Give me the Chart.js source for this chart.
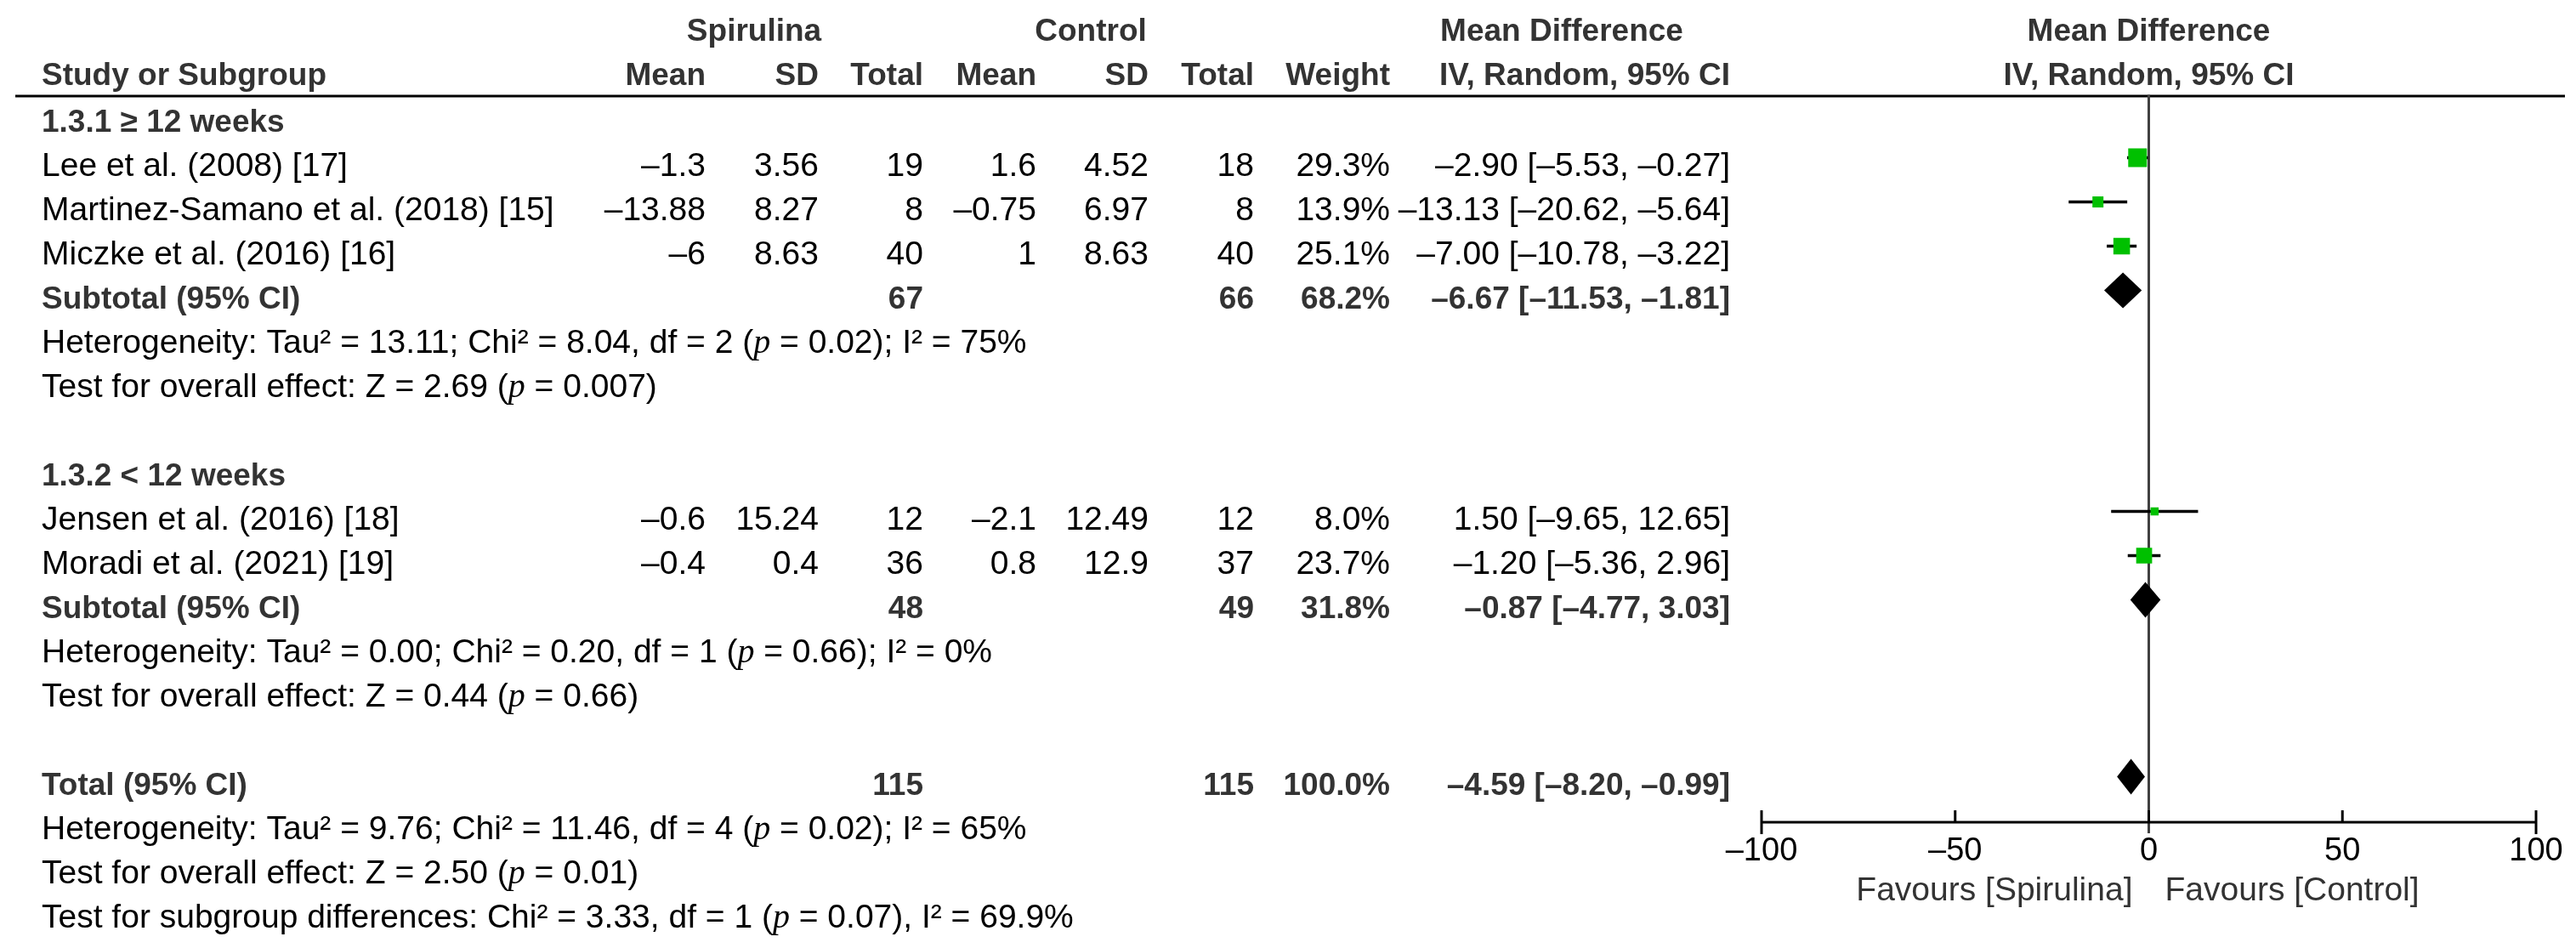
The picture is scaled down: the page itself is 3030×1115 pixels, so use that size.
<!DOCTYPE html>
<html>
<head>
<meta charset="utf-8">
<script src="https://cdn.jsdelivr.net/npm/chart.js@4.4.1/dist/chart.umd.min.js"></script>
<style>
    html, body { margin: 0; padding: 0; background: #fff; }
    #wrap { position: relative; width: 3030px; height: 1115px; }
</style>
</head>
<body>
<div id="wrap"><canvas id="forest"></canvas></div>
<script>
// studies
const studyNames = ['Lee et al. (2008) [17]', 'Martinez-Samano et al. (2018) [15]', 'Miczke et al. (2016) [16]', 'Jensen et al. (2016) [18]', 'Moradi et al. (2021) [19]'];
const studyRows = [1, 2, 3, 9, 10];
const spMean = [-1.3, -13.88, -6, -0.6, -0.4];
const spSD = [3.56, 8.27, 8.63, 15.24, 0.4];
const spN = [19, 8, 40, 12, 36];
const ctMean = [1.6, -0.75, 1, -2.1, 0.8];
const ctSD = [4.52, 6.97, 8.63, 12.49, 12.9];
const ctN = [18, 8, 40, 12, 37];
const weights = [29.3, 13.9, 25.1, 8.0, 23.7];
const md = [-2.90, -13.13, -7.00, 1.50, -1.20];
const ciLow = [-5.53, -20.62, -10.78, -9.65, -5.36];
const ciHigh = [-0.27, -5.64, -3.22, 12.65, 2.96];

// subtotals and total
const summaryNames = ['Subtotal (95% CI)', 'Subtotal (95% CI)', 'Total (95% CI)'];
const summaryRows = [4, 11, 15];
const summarySpN = [67, 48, 115];
const summaryCtN = [66, 49, 115];
const summaryWeight = [68.2, 31.8, 100.0];
const summaryMd = [-6.67, -0.87, -4.59];
const summaryLow = [-11.53, -4.77, -8.20];
const summaryHigh = [-1.81, 3.03, -0.99];

const groupNames = ['1.3.1 \u2265 12 weeks', '1.3.2 < 12 weeks'];
const groupRows = [0, 8];

// {p} is the italic p
const statRows = [5, 6, 12, 13, 16, 17, 18];
const statLines = [
    'Heterogeneity: Tau\u00b2 = 13.11; Chi\u00b2 = 8.04, df = 2 ({p} = 0.02); I\u00b2 = 75%',
    'Test for overall effect: Z = 2.69 ({p} = 0.007)',
    'Heterogeneity: Tau\u00b2 = 0.00; Chi\u00b2 = 0.20, df = 1 ({p} = 0.66); I\u00b2 = 0%',
    'Test for overall effect: Z = 0.44 ({p} = 0.66)',
    'Heterogeneity: Tau\u00b2 = 9.76; Chi\u00b2 = 11.46, df = 4 ({p} = 0.02); I\u00b2 = 65%',
    'Test for overall effect: Z = 2.50 ({p} = 0.01)',
    'Test for subgroup differences: Chi\u00b2 = 3.33, df = 1 ({p} = 0.07), I\u00b2 = 69.9%'
];

const xTickValues = [-100, -50, 0, 50, 100];
const favoursLeft = 'Favours [Spirulina]';
const favoursRight = 'Favours [Control]';

// layout
const SANS = '"Liberation Sans", Arial, sans-serif';
const SERIF = '"Liberation Serif", "Times New Roman", serif';
const COL = { name: 49, spMean: 830, spSD: 963, spN: 1086, ctMean: 1219, ctSD: 1351, ctN: 1475, weight: 1635, ci: 2035 };
const AXIS_ROW = 16.03;

const dash = s => s.replace(/-/g, '\u2013');
const fmt = v => dash(String(v));
const fix = (v, d) => dash(v.toFixed(d));
const ciText = (m, lo, hi) => fix(m, 2) + ' [' + fix(lo, 2) + ', ' + fix(hi, 2) + ']';

function put(ctx, text, x, y, align, bold) {
    ctx.font = (bold ? 'bold 37px ' : '39px ') + SANS;
    ctx.fillStyle = bold ? '#333' : '#000';
    ctx.textAlign = align;
    ctx.textBaseline = 'alphabetic';
    ctx.fillText(text, x, y);
}

function putStat(ctx, line, x, y) {
    const parts = line.split('{p}');
    ctx.textAlign = 'left';
    ctx.textBaseline = 'alphabetic';
    ctx.fillStyle = '#000';
    let cx = x;
    parts.forEach((part, i) => {
        if (i > 0) {
            ctx.font = 'italic 40px ' + SERIF;
            ctx.fillText('p', cx, y);
            cx += ctx.measureText('p').width;
        }
        ctx.font = '39px ' + SANS;
        ctx.fillText(part, cx, y);
        cx += ctx.measureText(part).width;
    });
}

const forestPlugin = {
    id: 'forest',
    beforeDatasetsDraw(chart) {
        const { ctx } = chart;
        const xs = chart.scales.x, ys = chart.scales.y;
        const x0 = xs.getPixelForValue(0);
        const ruleY = ys.getPixelForValue(-1) + 30;
        const axisY = ys.getPixelForValue(AXIS_ROW);
        ctx.save();
        ctx.fillStyle = '#000';
        ctx.fillRect(18, ruleY, 2999, 3);
        ctx.fillStyle = '#404040';
        ctx.fillRect(x0 - 1.5, ruleY, 3, axisY + 13 - ruleY);
        ctx.restore();
    },
    afterDatasetsDraw(chart) {
        const { ctx } = chart;
        const xs = chart.scales.x, ys = chart.scales.y;
        ctx.save();
        ctx.fillStyle = '#000';
        summaryRows.forEach((r, i) => {
            const yc = ys.getPixelForValue(r);
            const xl = xs.getPixelForValue(summaryLow[i]);
            const xm = xs.getPixelForValue(summaryMd[i]);
            const xh = xs.getPixelForValue(summaryHigh[i]);
            ctx.beginPath();
            ctx.moveTo(xl, yc);
            ctx.lineTo(xm, yc - 21);
            ctx.lineTo(xh, yc);
            ctx.lineTo(xm, yc + 21);
            ctx.closePath();
            ctx.fill();
        });
        ctx.restore();
    },
    afterDraw(chart) {
        const { ctx } = chart;
        const xs = chart.scales.x, ys = chart.scales.y;
        const x0 = xs.getPixelForValue(0);
        const axisY = ys.getPixelForValue(AXIS_ROW);
        const base = r => ys.getPixelForValue(r) + 21;
        ctx.save();

        // column headers
        const h1 = ys.getPixelForValue(-2) + 18;
        const h2 = ys.getPixelForValue(-1) + 18;
        put(ctx, 'Spirulina', 887, h1, 'center', true);
        put(ctx, 'Control', 1283, h1, 'center', true);
        put(ctx, 'Mean Difference', 1837, h1, 'center', true);
        put(ctx, 'Mean Difference', x0, h1, 'center', true);
        put(ctx, 'Study or Subgroup', COL.name, h2, 'left', true);
        put(ctx, 'Mean', COL.spMean, h2, 'right', true);
        put(ctx, 'SD', COL.spSD, h2, 'right', true);
        put(ctx, 'Total', COL.spN, h2, 'right', true);
        put(ctx, 'Mean', COL.ctMean, h2, 'right', true);
        put(ctx, 'SD', COL.ctSD, h2, 'right', true);
        put(ctx, 'Total', COL.ctN, h2, 'right', true);
        put(ctx, 'Weight', COL.weight, h2, 'right', true);
        put(ctx, 'IV, Random, 95% CI', COL.ci, h2, 'right', true);
        put(ctx, 'IV, Random, 95% CI', x0, h2, 'center', true);

        groupRows.forEach((r, i) => put(ctx, groupNames[i], COL.name, base(r), 'left', true));

        studyRows.forEach((r, i) => {
            const y = base(r);
            put(ctx, studyNames[i], COL.name, y, 'left', false);
            put(ctx, fmt(spMean[i]), COL.spMean, y, 'right', false);
            put(ctx, fmt(spSD[i]), COL.spSD, y, 'right', false);
            put(ctx, fmt(spN[i]), COL.spN, y, 'right', false);
            put(ctx, fmt(ctMean[i]), COL.ctMean, y, 'right', false);
            put(ctx, fmt(ctSD[i]), COL.ctSD, y, 'right', false);
            put(ctx, fmt(ctN[i]), COL.ctN, y, 'right', false);
            put(ctx, weights[i].toFixed(1) + '%', COL.weight, y, 'right', false);
            put(ctx, ciText(md[i], ciLow[i], ciHigh[i]), COL.ci, y, 'right', false);
        });

        summaryRows.forEach((r, i) => {
            const y = base(r);
            put(ctx, summaryNames[i], COL.name, y, 'left', true);
            put(ctx, fmt(summarySpN[i]), COL.spN, y, 'right', true);
            put(ctx, fmt(summaryCtN[i]), COL.ctN, y, 'right', true);
            put(ctx, summaryWeight[i].toFixed(1) + '%', COL.weight, y, 'right', true);
            put(ctx, ciText(summaryMd[i], summaryLow[i], summaryHigh[i]), COL.ci, y, 'right', true);
        });

        statRows.forEach((r, i) => putStat(ctx, statLines[i], COL.name, base(r)));

        // x axis: line, ticks pointing up (end ticks cross the line), labels
        ctx.fillStyle = '#000';
        ctx.fillRect(xs.left, axisY - 1.5, xs.right - xs.left, 3);
        ctx.font = '38px ' + SANS;
        ctx.textAlign = 'center';
        ctx.textBaseline = 'middle';
        xs.ticks.forEach((t, i) => {
            const px = xs.getPixelForValue(t.value);
            const end = i === 0 || i === xs.ticks.length - 1;
            ctx.fillRect(px - 1.5, axisY - 14, 3, end ? 28 : 14);
            ctx.fillText(fmt(t.value), px, axisY + 34);
        });

        ctx.font = '39px ' + SANS;
        ctx.fillStyle = '#333';
        ctx.textBaseline = 'alphabetic';
        ctx.textAlign = 'right';
        ctx.fillText(favoursLeft, x0 - 19, axisY + 92);
        ctx.textAlign = 'left';
        ctx.fillText(favoursRight, x0 + 19, axisY + 92);
        ctx.restore();
    }
};

const ctx = document.getElementById('forest').getContext('2d');
new Chart(ctx, {
    type: 'scatter',
    data: {
        datasets: [{
            type: 'bar',
            indexAxis: 'y',
            data: studyRows.map((r, i) => ({ y: r, x: [ciLow[i], ciHigh[i]] })),
            backgroundColor: '#000',
            borderWidth: 0,
            barThickness: 3,
            order: 2
        }, {
            type: 'scatter',
            data: studyRows.map((r, i) => ({ x: md[i], y: r })),
            pointStyle: 'rect',
            pointRadius: c => (4.8 + 0.587 * weights[c.dataIndex]) / Math.SQRT2,
            pointHoverRadius: c => (4.8 + 0.587 * weights[c.dataIndex]) / Math.SQRT2,
            backgroundColor: '#00c000',
            borderWidth: 0,
            order: 1
        }]
    },
    options: {
        responsive: true,
        maintainAspectRatio: false,
        animation: false,
        events: [],
        layout: { padding: { left: 2072, right: 47, top: 107.5, bottom: 19.5 } },
        plugins: {
            legend: { display: false },
            tooltip: { enabled: false }
        },
        scales: {
            x: {
                type: 'linear',
                min: -100,
                max: 100,
                display: false,
                afterBuildTicks: scale => { scale.ticks = xTickValues.map(v => ({ value: v })); }
            },
            y: { type: 'linear', reverse: true, min: -0.5, max: 18.5, offset: false, display: false }
        }
    },
    plugins: [forestPlugin]
});
</script>
</body>
</html>
